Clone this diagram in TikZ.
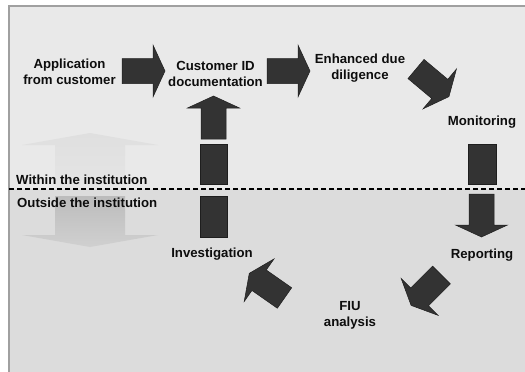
\documentclass[tikz,border=0pt]{standalone}
\usepackage{fontspec}
\setmainfont{Liberation Sans}
\definecolor{upperbg}{HTML}{E9E9E9}
\definecolor{lowerbg}{HTML}{DCDCDC}
\definecolor{frameline}{HTML}{A0A0A0}
\definecolor{blockfill}{HTML}{333333}
\definecolor{blockedge}{HTML}{1E1E1E}
\definecolor{paleup}{HTML}{DFDFDF}
\definecolor{paleuplow}{HTML}{E5E5E5}
\definecolor{palegreytop}{HTML}{BCBCBC}
\definecolor{palegreybot}{HTML}{D0D0D0}
\tikzset{
  lbl/.style={font=\bfseries\fontsize{13.2}{16}\selectfont, align=center, inner sep=0pt, text=black!95},
  sidelbl/.style={lbl, anchor=west},
  blockshape/.style={fill=blockfill, draw=blockedge, line width=0.5pt, line join=miter},
  pics/blockarrow/.style={code={
    \draw[blockshape] (0,12.5) -- (31,12.5) -- (31,26) -- (43,0) -- (31,-26)
      -- (31,-12.5) -- (0,-12.5) -- cycle;
  }},
}
\begin{document}
\begin{tikzpicture}[x=1pt, y=-1pt]
\useasboundingbox (0,0) rectangle (525,372);
% two zones of the frame
\fill[upperbg] (9,6) rectangle (525,189);
\fill[lowerbg] (9,189) rectangle (525,372);
\draw[frameline, line width=1.4pt] (525,6) -- (9,6) -- (9,372);

% pale direction arrows of the two zones
\shade[top color=paleup, bottom color=paleuplow]
  (55,188) -- (55,145) -- (22,145) -- (90,133) -- (158,145) -- (125,145) -- (125,188) -- cycle;
\shade[top color=palegreytop, bottom color=palegreybot]
  (55,196) -- (125,196) -- (125,235) -- (158,235) -- (90,247) -- (22,235) -- (55,235) -- cycle;

% boundary between the zones
\draw[line width=1.4pt, dash pattern=on 5pt off 3pt] (9,189) -- (525,189);

% zone labels
\node[sidelbl] (within) at (16,180) {Within the institution};
\node[sidelbl] (outside) at (17,203) {Outside the institution};

% steps of the cycle
\node[lbl] (app) at (69.5,72) {Application\\from customer};
\node[lbl] (cid) at (215.5,73.5) {Customer ID\\documentation};
\node[lbl] (edd) at (360,68) {Enhanced due\\diligence};
\node[lbl] (mon) at (482,122) {Monitoring};
\node[lbl] (rep) at (482,255) {Reporting};
\node[lbl] (fiu) at (350,315) {FIU\\analysis};
\node[lbl] (inv) at (212,254) {Investigation};

% block arrows of the cycle
\pic at (122,71) {blockarrow};
\pic at (267,71) {blockarrow};
\pic[rotate=-40] at (416,69) {blockarrow};
\draw[blockshape] (468,144) rectangle (496,184);
\pic[rotate=-90] at (481.5,194) {blockarrow};
\pic[rotate=-135] at (441.5,275) {blockarrow};
\pic[rotate=145] at (284.5,298) {blockarrow};
\draw[blockshape] (200,196) rectangle (227,237);
\draw[blockshape] (200,144) rectangle (227,184);
\pic[rotate=90] at (213.5,139) {blockarrow};
\end{tikzpicture}
\end{document}
